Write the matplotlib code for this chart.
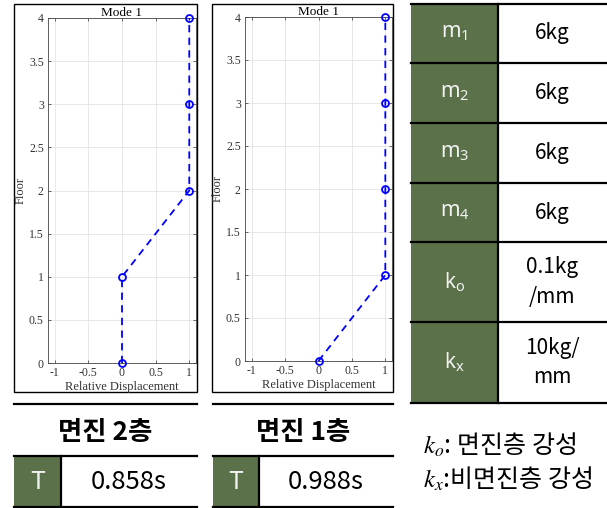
import matplotlib
matplotlib.use("Agg")
import matplotlib.pyplot as plt
from matplotlib.patches import Rectangle
from matplotlib.ticker import FuncFormatter

# mode shape data (floor vs relative displacement)
floors = [0, 1, 2, 3, 4]
mode_iso2 = [0, 0, 1, 1, 1]   # 면진 2층
mode_iso1 = [0, 1, 1, 1, 1]   # 면진 1층

panel_titles = ["면진 2층", "면진 1층"]
periods = ["0.858s", "0.988s"]

prop_labels = [r"$\mathrm{m}_1$", r"$\mathrm{m}_2$", r"$\mathrm{m}_3$", r"$\mathrm{m}_4$",
               r"$\mathrm{k}_\mathrm{o}$", r"$\mathrm{k}_\mathrm{x}$"]
prop_values = ["6kg", "6kg", "6kg", "6kg", "0.1kg\n/mm", "10kg/\nmm"]
row_edges = [4, 63, 123, 183, 242, 322, 403]

notes = ["$k_o$: 면진층 강성", "$k_x$:비면진층 강성"]

GREEN = "#5a7149"
W, H = 607, 508

plt.rcParams["mathtext.fontset"] = "custom"
plt.rcParams["mathtext.rm"] = "Noto Sans"
plt.rcParams["mathtext.it"] = "Noto Sans:italic"

fig = plt.figure(figsize=(W / 100, H / 100), dpi=100)

# overlay axes in pixel coords for frames / tables
bg = fig.add_axes([0, 0, 1, 1])
bg.set_xlim(0, W)
bg.set_ylim(H, 0)
bg.axis("off")
bg.set_zorder(0)


def px_axes(x0, y0, x1, y1):
    return fig.add_axes([x0 / W, 1 - y1 / H, (x1 - x0) / W, (y1 - y0) / H])


def mode_plot(box, data):
    ax = px_axes(*box)
    ax.plot(data, floors, "--o", color="#0000ff", lw=1.3, ms=5,
            mfc="none", mew=1.3, dashes=(4, 3), clip_on=False, zorder=3)
    ax.set_xlim(-1.1, 1.1)
    ax.set_ylim(0, 4)
    ax.set_xticks([-1, -0.5, 0, 0.5, 1])
    ax.set_yticks([0, 0.5, 1, 1.5, 2, 2.5, 3, 3.5, 4])
    fmt = FuncFormatter(lambda v, p: "%g" % v)
    ax.xaxis.set_major_formatter(fmt)
    ax.yaxis.set_major_formatter(fmt)
    ax.grid(True, color="#e4e4e4", lw=0.6)
    ax.set_axisbelow(True)
    ax.tick_params(direction="in", length=2.5, width=0.5, colors="#333333",
                   labelsize=8.5, top=True, right=True, pad=3)
    for lab in ax.get_xticklabels() + ax.get_yticklabels():
        lab.set_fontfamily("Liberation Serif")
    for s in ax.spines.values():
        s.set_color("#444444")
        s.set_linewidth(0.6)
    ax.set_title("Mode 1", fontfamily="Liberation Serif", fontsize=9.5, pad=1.5)
    ax.set_xlabel("Relative Displacement", fontfamily="Liberation Serif",
                  fontsize=9, labelpad=1.5, color="#333333")
    ax.set_ylabel("Floor", fontfamily="Liberation Serif", fontsize=9,
                  labelpad=2, color="#333333")
    return ax


mode_plot((48, 18, 196, 363), mode_iso2)
mode_plot((245, 17, 392, 361), mode_iso1)

# figure frames around each plot
for x0, x1 in [(14, 197), (212, 393)]:
    bg.add_patch(Rectangle((x0, 4), x1 - x0, 388, fill=False, ec="black", lw=1.0))

# period tables under each plot
for (x0, xs, x1), title, per in zip([(14, 61, 197), (213, 259, 393)], panel_titles, periods):
    bg.plot([x0, x1], [404, 404], color="black", lw=1.6)
    bg.text((x0 + x1) / 2, 432, title, ha="center", va="center", fontsize=19,
            fontweight="bold", fontfamily="Noto Sans CJK KR")
    bg.add_patch(Rectangle((x0, 456), xs - x0, 51, fc=GREEN, ec="none"))
    bg.plot([x0, x1], [456, 456], color="black", lw=1.6)
    bg.plot([x0, x1], [507, 507], color="black", lw=1.6)
    bg.plot([xs, xs], [456, 507], color="black", lw=1.6)
    bg.text((x0 + xs) / 2, 482, "T", ha="center", va="center", fontsize=18,
            color="#f2f2f2", fontfamily="Noto Sans CJK KR")
    bg.text((xs + x1) / 2, 482, per, ha="center", va="center", fontsize=18.5,
            fontfamily="Noto Sans CJK KR")

# property table
tx0, tmid, tx1 = 411, 498, 607
for i, (lab, val) in enumerate(zip(prop_labels, prop_values)):
    y0, y1 = row_edges[i], row_edges[i + 1]
    bg.add_patch(Rectangle((tx0, y0), tmid - tx0, y1 - y0, fc=GREEN, ec="none"))
    bg.text((tx0 + tmid) / 2, (y0 + y1) / 2, lab, ha="center", va="center",
            fontsize=15, color="#f2f2f2", math_fontfamily="custom")
    bg.text((tmid + tx1) / 2, (y0 + y1) / 2, val, ha="center", va="center",
            fontsize=15, fontfamily="Noto Sans CJK KR", linespacing=1.45)
for y in row_edges:
    bg.plot([tx0, tx1], [y, y], color="black", lw=1.6)
bg.plot([tmid, tmid], [row_edges[0], row_edges[-1]], color="black", lw=1.6)

# notes
for y, t in zip([446, 480], notes):
    bg.text(423, y, t, ha="left", va="center", fontsize=18,
            fontfamily=["Noto Sans CJK KR", "DejaVu Sans"], math_fontfamily="stix")

fig.savefig("out.png", dpi=100)
